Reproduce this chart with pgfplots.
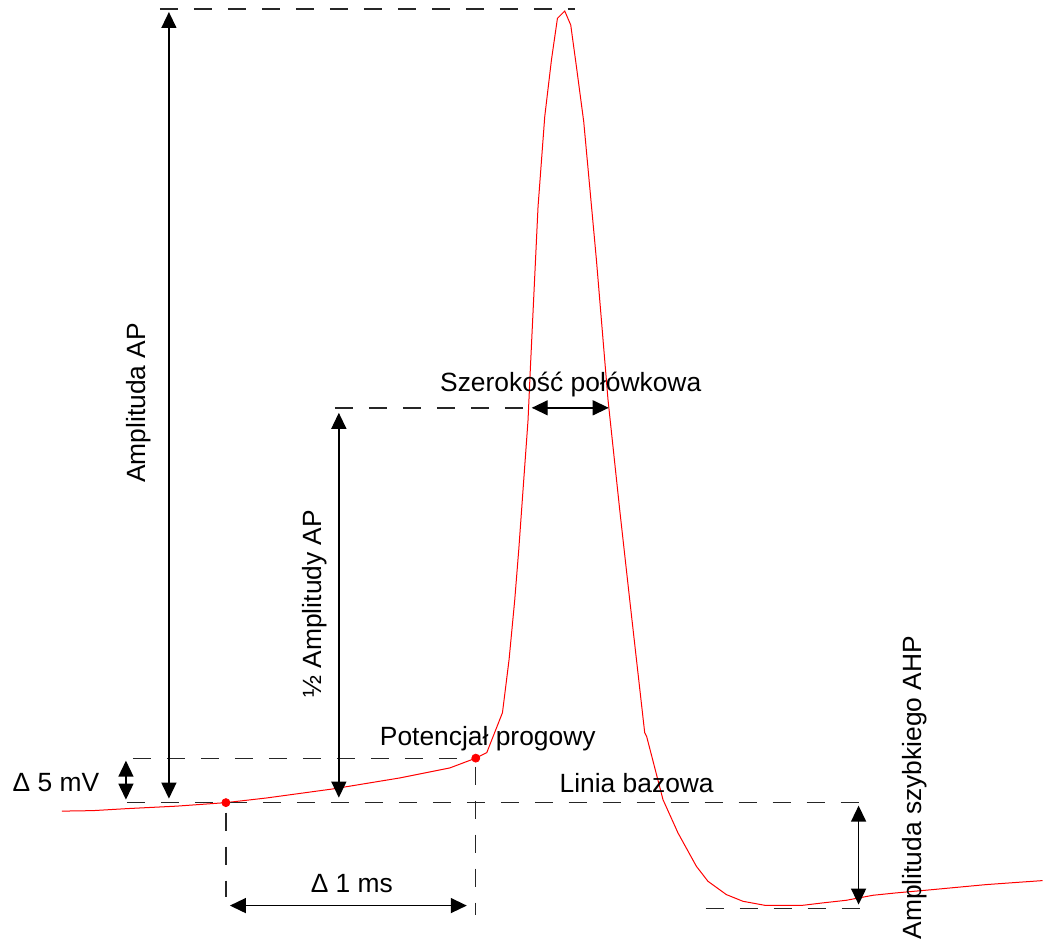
\documentclass[border=0pt]{standalone}
\usepackage{fontspec}
\setmainfont{Liberation Sans}
\usepackage{pgfplots}
\pgfplotsset{compat=1.18}
\usetikzlibrary{arrows.meta}
\begin{document}
\fontsize{13.2}{15.8}\selectfont
\begin{tikzpicture}[
  dsh/.style={line width=0.7pt, black!85, dash pattern=on 9pt off 8pt},
  arr/.style={line width=0.7pt, black, {Triangle[length=8pt,width=7.5pt]}-{Triangle[length=8pt,width=7.5pt]}},
  lbl/.style={inner sep=0pt, anchor=base, font=\fontsize{13.2}{15.8}\selectfont}
]
\begin{axis}[
  scale only axis, width=521.5pt, height=471.5pt,
  xmin=0, xmax=1043, ymin=0, ymax=943, y dir=reverse,
  enlargelimits=false, hide axis, clip=false
]
\path (axis cs:0,0) rectangle (axis cs:1043,943);
% trace
\addplot[red, line width=0.5pt] coordinates {
(62,811.5) (93,811) (127,809) (177,806.5) (226,803) (267,798.3) (333,789.3)
(400,778.3) (450,768.3) (476,758.5) (487,753) (502.7,713) (509.3,660) (515,600)
(519,550) (528.3,420) (530.7,366.7) (538.3,206.7) (545,116.7) (551.7,60)
(557.7,18.3) (565,11) (571,25) (576.7,66.7) (584,121.7) (596.7,260) (608.3,400)
(620,510) (630,600) (645,733) (647,737) (663.3,800) (678.3,833.3) (696.7,866.7)
(708.3,881.7) (726.7,895) (743.3,901.7) (765,905.7) (803.3,905.7) (823.3,903.3)
(846.7,900.7) (873.3,895.7) (896.7,893.3) (933.3,890) (986.7,885) (1043,881)
};
\addplot[only marks, mark=*, mark size=2pt, red] coordinates {(226,803) (476,758.5)};
% dashed guides
\draw[dsh] (axis cs:160,9) -- (axis cs:575,9);
\draw[dsh] (axis cs:133,759) -- (axis cs:474,759);
\draw[dsh] (axis cs:127,803) -- (axis cs:862,803);
\draw[dsh] (axis cs:335,408) -- (axis cs:528,408);
\draw[dsh] (axis cs:476,767) -- (axis cs:476,915);
\draw[dsh] (axis cs:226,813) -- (axis cs:226,897);
\draw[dsh] (axis cs:706,909) -- (axis cs:864,909);
% arrows
\draw[arr] (axis cs:169,12) -- (axis cs:169,799);
\draw[arr] (axis cs:126,761) -- (axis cs:126,800);
\draw[arr] (axis cs:339,413) -- (axis cs:339,798);
\draw[arr] (axis cs:532,408) -- (axis cs:609,408);
\draw[arr] (axis cs:230,906) -- (axis cs:467,906);
\draw[arr] (axis cs:859,806) -- (axis cs:859,905);
% labels
\node[lbl, rotate=90] at (axis cs:146,403) {Amplituda AP};
\node[lbl, rotate=90] at (axis cs:322,604) {½ Amplitudy AP};
\node[lbl] at (axis cs:571,392) {Szerokość połówkowa};
\node[lbl] at (axis cs:488,746) {Potencjał progowy};
\node[lbl] at (axis cs:637,793) {Linia bazowa};
\node[lbl] at (axis cs:56,792) {Δ 5 mV};
\node[lbl] at (axis cs:352,893) {Δ 1 ms};
\node[lbl, rotate=90] at (axis cs:922,788) {Amplituda szybkiego AHP};
\end{axis}
\end{tikzpicture}
\end{document}
